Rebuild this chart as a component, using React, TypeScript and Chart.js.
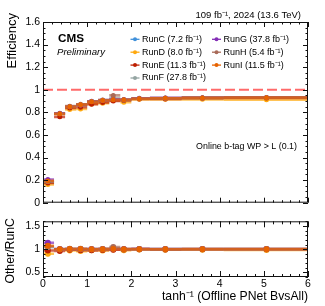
import React, { useEffect, useRef } from "react";
import { Chart, registerables } from "chart.js";

Chart.register(...registerables);

const FONT = "'Liberation Sans', Arial, Helvetica, sans-serif";

// Bin layout (tanh^-1 of the PNet BvsAll score)
const binLow = [0, 0.25, 0.5, 0.75, 1.0, 1.25, 1.5, 1.75, 2.0, 2.42, 3.14, 4.09];
const binHigh = [0.25, 0.5, 0.75, 1.0, 1.25, 1.5, 1.75, 2.0, 2.42, 3.14, 4.09, 6.0];
const xCenters = [0.11, 0.38, 0.605, 0.85, 1.1, 1.35, 1.59, 1.83, 2.18, 2.77, 3.61, 5.06];

// Efficiencies per run
const effRunC = [0.180, 0.790, 0.848, 0.866, 0.895, 0.905, 0.910, 0.912, 0.920, 0.925, 0.928, 0.930];
const effRunD = [0.162, 0.785, 0.825, 0.830, 0.875, 0.880, 0.905, 0.890, 0.915, 0.915, 0.915, 0.912];
const effRunE = [0.175, 0.760, 0.838, 0.845, 0.872, 0.888, 0.900, 0.905, 0.918, 0.918, 0.925, 0.928];
const effRunF = [0.188, 0.790, 0.850, 0.866, 0.895, 0.905, 0.925, 0.910, 0.920, 0.925, 0.928, 0.930];
const effRunG = [0.205, 0.792, 0.852, 0.868, 0.898, 0.908, 0.915, 0.914, 0.925, 0.928, 0.930, 0.932];
const effRunH = [0.190, 0.788, 0.855, 0.872, 0.895, 0.910, 0.950, 0.912, 0.922, 0.926, 0.930, 0.932];
const effRunI = [0.193, 0.788, 0.850, 0.868, 0.893, 0.905, 0.912, 0.912, 0.920, 0.924, 0.928, 0.930];

// Statistical uncertainties
const effErr = [0.010, 0.010, 0.012, 0.012, 0.010, 0.010, 0.010, 0.010, 0.006, 0.005, 0.005, 0.005];
const effErrH = [0.014, 0.014, 0.016, 0.016, 0.014, 0.014, 0.018, 0.014, 0.008, 0.007, 0.007, 0.007];

const runNames = ["RunC", "RunD", "RunE", "RunF", "RunG", "RunH", "RunI"];
const runLumis = ["7.2", "8.0", "11.3", "27.8", "37.8", "5.4", "11.5"];
const runColors = ["#3f90da", "#ffa90e", "#bd1f01", "#94a4a2", "#832db6", "#a96b59", "#e76300"];
const runEffs = [effRunC, effRunD, effRunE, effRunF, effRunG, effRunH, effRunI];
const runErrs = [effErr, effErr, effErr, effErr, effErr, effErrH, effErr];

const yTicksTop = [0, 0.2, 0.4, 0.6, 0.8, 1.0, 1.2, 1.4, 1.6];
const yTicksRatio = [0.5, 1.0, 1.5];
const xTicks = [0, 1, 2, 3, 4, 5, 6];

function rgba(hex: string, a: number) {
  const n = parseInt(hex.slice(1), 16);
  return `rgba(${(n >> 16) & 255},${(n >> 8) & 255},${n & 255},${a})`;
}

const errorBarPlugin = {
  id: "errbars",
  beforeDatasetsDraw(chart: any) {
    const { ctx, chartArea: a, scales } = chart;
    const xs = scales.x, ys = scales.y;
    ctx.save();
    ctx.beginPath();
    ctx.rect(a.left, a.top, a.width, a.height);
    ctx.clip();
    chart.data.datasets.forEach((ds: any) => {
      ds.data.forEach((p: any) => {
        const py = ys.getPixelForValue(p.y);
        const px = xs.getPixelForValue(p.x);
        ctx.strokeStyle = rgba(ds.baseColor, 0.7);
        ctx.lineWidth = 2.6;
        ctx.beginPath();
        ctx.moveTo(xs.getPixelForValue(p.xlo), py);
        ctx.lineTo(xs.getPixelForValue(p.xhi), py);
        ctx.stroke();
        ctx.strokeStyle = rgba(ds.baseColor, 0.85);
        ctx.lineWidth = 1.3;
        ctx.beginPath();
        ctx.moveTo(px, ys.getPixelForValue(p.y - p.e));
        ctx.lineTo(px, ys.getPixelForValue(p.y + p.e));
        ctx.stroke();
      });
    });
    ctx.restore();
  },
};

const framePlugin = {
  id: "rootFrame",
  afterDraw(chart: any, _args: any, o: any) {
    const { ctx, chartArea: a, scales } = chart;
    const xs = scales.x, ys = scales.y;
    ctx.save();
    ctx.strokeStyle = "#111";
    ctx.lineWidth = 1;
    ctx.strokeRect(a.left + 0.5, a.top + 0.5, a.width - 1, a.height - 1);
    ctx.beginPath();
    const ny = Math.round((ys.max - ys.min) / o.yMinor);
    for (let k = 0; k <= ny; k++) {
      const v = ys.min + k * o.yMinor;
      const maj = Math.abs(v / o.yMajor - Math.round(v / o.yMajor)) < 1e-6;
      const len = maj ? o.yLen : o.yLen / 2;
      const py = Math.round(ys.getPixelForValue(v)) + 0.5;
      ctx.moveTo(a.left, py);
      ctx.lineTo(a.left + len, py);
      ctx.moveTo(a.right, py);
      ctx.lineTo(a.right - len, py);
    }
    const nx = Math.round((xs.max - xs.min) / o.xMinor);
    for (let k = 0; k <= nx; k++) {
      const v = xs.min + k * o.xMinor;
      const maj = Math.abs(v / o.xMajor - Math.round(v / o.xMajor)) < 1e-6;
      const len = maj ? o.xLen : o.xLen / 2;
      const px = Math.round(xs.getPixelForValue(v)) + 0.5;
      ctx.moveTo(px, a.bottom);
      ctx.lineTo(px, a.bottom - len);
      ctx.moveTo(px, a.top);
      ctx.lineTo(px, a.top + len);
    }
    ctx.stroke();
    ctx.restore();
  },
};

const topDecorPlugin = {
  id: "topDecor",
  beforeDatasetsDraw(chart: any) {
    const { ctx, chartArea: a, scales } = chart;
    const py = scales.y.getPixelForValue(1.0);
    ctx.save();
    ctx.strokeStyle = "rgba(255,90,90,0.9)";
    ctx.lineWidth = 2;
    ctx.setLineDash([10, 4]);
    ctx.beginPath();
    ctx.moveTo(a.left, py);
    ctx.lineTo(a.right, py);
    ctx.stroke();
    ctx.restore();
  },
  afterDraw(chart: any) {
    const { ctx } = chart;
    ctx.save();
    ctx.fillStyle = "#000";
    ctx.textBaseline = "middle";
    // lumi label
    ctx.font = `9.5px ${FONT}`;
    ctx.textAlign = "right";
    ctx.fillText("109 fb\u207B\u00B9, 2024 (13.6 TeV)", 301, 15);
    // CMS
    ctx.textAlign = "left";
    ctx.font = `bold 11.7px ${FONT}`;
    ctx.fillText("CMS", 58, 38.5);
    ctx.font = `italic 9.6px ${FONT}`;
    ctx.fillText("Preliminary", 57, 52);
    // selection label
    ctx.textAlign = "right";
    ctx.font = `8.9px ${FONT}`;
    ctx.fillText("Online b-tag WP > L (0.1)", 297, 147);
    // y title
    ctx.save();
    ctx.translate(12, 13);
    ctx.rotate(-Math.PI / 2);
    ctx.textAlign = "right";
    ctx.font = `13px ${FONT}`;
    ctx.fillText("Efficiency", 0, 0);
    ctx.restore();
    // legend
    ctx.font = `9px ${FONT}`;
    ctx.textAlign = "left";
    runNames.forEach((name, i) => {
      const col = i < 4 ? 0 : 1;
      const row = i < 4 ? i : i - 4;
      const mx = col === 0 ? 135 : 216.5;
      const my = 39.3 + row * 12.9;
      ctx.strokeStyle = runColors[i];
      ctx.lineWidth = 1.3;
      ctx.beginPath();
      ctx.moveTo(mx - 4.5, my);
      ctx.lineTo(mx + 4.5, my);
      ctx.stroke();
      ctx.fillStyle = runColors[i];
      ctx.beginPath();
      ctx.arc(mx, my, 2, 0, Math.PI * 2);
      ctx.fill();
      ctx.fillStyle = "#000";
      ctx.fillText(`${name} (${runLumis[i]} fb\u207B\u00B9)`, mx + 7, my);
    });
    ctx.restore();
  },
};

const botDecorPlugin = {
  id: "botDecor",
  afterDraw(chart: any) {
    const { ctx } = chart;
    ctx.save();
    ctx.fillStyle = "#000";
    ctx.textBaseline = "middle";
    ctx.save();
    ctx.translate(11, 6);
    ctx.rotate(-Math.PI / 2);
    ctx.textAlign = "right";
    ctx.font = `12.3px ${FONT}`;
    ctx.fillText("Other/RunC", 0, 0);
    ctx.restore();
    ctx.textAlign = "right";
    ctx.font = `12.2px ${FONT}`;
    ctx.fillText("tanh\u207B\u00B9 (Offline PNet BvsAll)", 308, 85);
    ctx.restore();
  },
};

function makeTopData() {
  return runNames.map((name, i) => ({
    label: name,
    baseColor: runColors[i],
    order: 10 - i,
    data: xCenters.map((x, k) => ({ x, y: runEffs[i][k], xlo: binLow[k], xhi: binHigh[k], e: runErrs[i][k] })),
    pointRadius: 2.5,
    pointBackgroundColor: runColors[i],
    pointBorderWidth: 0,
    showLine: false,
  }));
}

function makeRatioData() {
  return runNames.slice(1).map((name, j) => {
    const i = j + 1;
    return {
      label: name,
      baseColor: runColors[i],
      order: 10 - i,
      data: xCenters.map((x, k) => ({
        x,
        y: runEffs[i][k] / effRunC[k],
        xlo: binLow[k],
        xhi: binHigh[k],
        e: runErrs[i][k] / effRunC[k],
      })),
      pointRadius: 3,
      pointBackgroundColor: runColors[i],
      pointBorderWidth: 0,
      showLine: false,
    };
  });
}

const tickFont = { family: FONT, size: 10.5 };

export default function App() {
  const topRef = useRef<HTMLCanvasElement>(null);
  const botRef = useRef<HTMLCanvasElement>(null);

  useEffect(() => {
    const top = new Chart(topRef.current as HTMLCanvasElement, {
      type: "scatter",
      data: { datasets: makeTopData() as any },
      options: {
        animation: false,
        responsive: false,
        devicePixelRatio: 1,
        layout: { padding: { top: 22, right: 17, bottom: 6, left: 0 } },
        plugins: { legend: { display: false }, tooltip: { enabled: false }, rootFrame: { xMajor: 1, xMinor: 0.2, yMajor: 0.2, yMinor: 0.05, xLen: 5, yLen: 5 } } as any,
        scales: {
          x: { type: "linear", min: 0, max: 6, display: false },
          y: {
            type: "linear",
            min: 0,
            max: 1.6,
            afterBuildTicks: (s: any) => { s.ticks = yTicksTop.map((v) => ({ value: v })); },
            afterFit: (s: any) => { s.width = 43; },
            ticks: { font: tickFont, color: "#000", padding: 3, callback: (v: any) => String(Math.round(Number(v) * 10) / 10) },
            grid: { display: false, drawTicks: false },
            border: { display: false },
          },
        },
      },
      plugins: [errorBarPlugin, framePlugin, topDecorPlugin],
    });

    const bot = new Chart(botRef.current as HTMLCanvasElement, {
      type: "scatter",
      data: { datasets: makeRatioData() as any },
      options: {
        animation: false,
        responsive: false,
        devicePixelRatio: 1,
        layout: { padding: { top: 6, right: 17, bottom: 0, left: 0 } },
        plugins: { legend: { display: false }, tooltip: { enabled: false }, rootFrame: { xMajor: 1, xMinor: 0.2, yMajor: 0.5, yMinor: 0.1, xLen: 6, yLen: 5 } } as any,
        scales: {
          x: {
            type: "linear",
            min: 0,
            max: 6,
            afterBuildTicks: (s: any) => { s.ticks = xTicks.map((v) => ({ value: v })); },
            afterFit: (s: any) => { s.height = 29; },
            ticks: { font: tickFont, color: "#000", padding: 1, maxRotation: 0, autoSkip: false, callback: (v: any) => String(v) },
            grid: { display: false, drawTicks: false },
            border: { display: false },
          },
          y: {
            type: "linear",
            min: 0.4,
            max: 1.6,
            afterBuildTicks: (s: any) => { s.ticks = yTicksRatio.map((v) => ({ value: v })); },
            afterFit: (s: any) => { s.width = 43; },
            ticks: { font: tickFont, color: "#000", padding: 3, callback: (v: any) => String(Math.round(Number(v) * 10) / 10) },
            grid: { display: false, drawTicks: false },
            border: { display: false },
          },
        },
      },
      plugins: [errorBarPlugin, framePlugin, botDecorPlugin],
    });

    return () => {
      top.destroy();
      bot.destroy();
    };
  }, []);

  return (
    <div style={{ position: "absolute", left: 0, top: 0, width: 325, height: 306, background: "#fff" }}>
      <canvas ref={topRef} width={325} height={212} style={{ position: "absolute", left: 0, top: 0, width: 325, height: 212 }} />
      <canvas ref={botRef} width={325} height={94} style={{ position: "absolute", left: 0, top: 212, width: 325, height: 94 }} />
    </div>
  );
}
